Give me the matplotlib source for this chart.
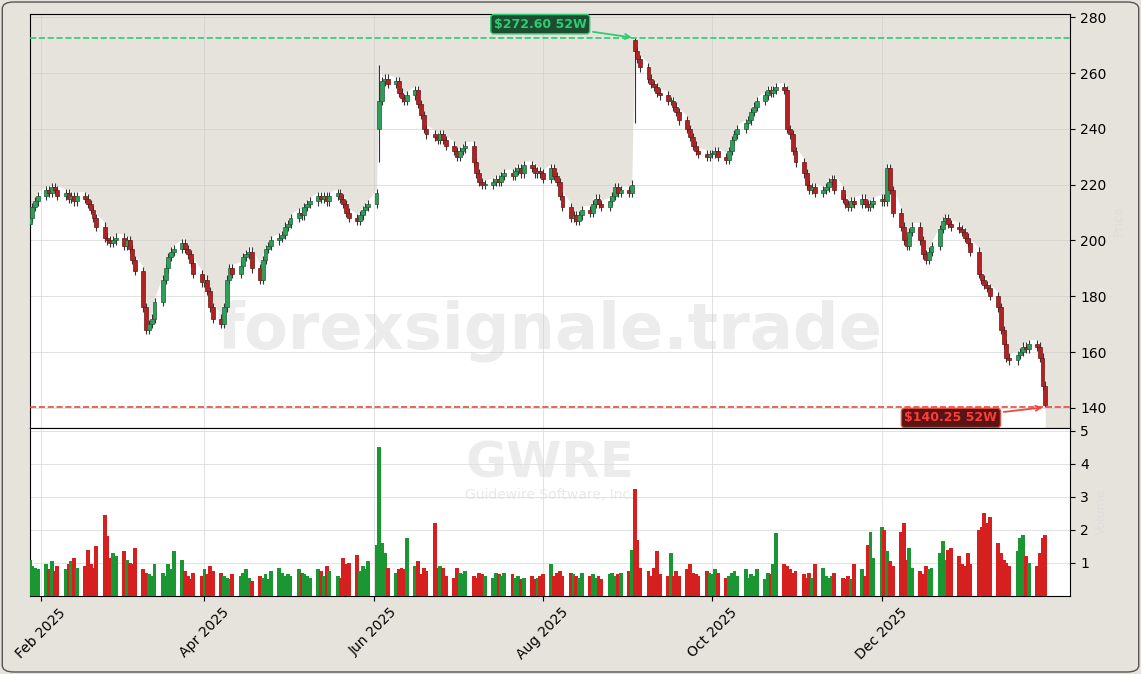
import matplotlib
matplotlib.use("Agg")
import matplotlib.pyplot as plt
import matplotlib.dates as mdates
from matplotlib.patches import FancyBboxPatch
import numpy as np
import pandas as pd

close_jan25 = [208, 212, 214, 216]
close_feb = [218, 217, 219, 218, 216, 217, 215, 216, 214, 216, 215, 213, 211, 208, 205, 201, 200, 199, 200, 201]
close_mar = [198, 200, 197, 193, 189, 176, 168, 170, 172, 178, 186, 190, 194, 196, 197, 199, 197, 195, 192, 188, 185]
close_apr = [186, 182, 176, 172, 170, 176, 186, 190, 188, 191, 194, 195, 196, 190, 186, 193, 197, 198, 200, 201, 202, 205]
close_may = [206, 208, 210, 209, 212, 213, 214, 216, 215, 216, 214, 216, 217, 215, 213, 210, 208, 207, 209, 211, 212, 213]
close_jun = [217, 250, 257, 258, 256, 257, 253, 251, 250, 252, 254, 249, 245, 240, 238, 237, 236, 238, 236, 234, 232]
close_jul = [230, 232, 233, 234, 228, 224, 221, 220, 220, 221, 222, 221, 223, 224, 223, 225, 226, 224, 227, 226, 224, 225, 224]
close_aug = [222, 226, 223, 221, 216, 212, 208, 209, 207, 209, 211, 210, 213, 215, 213, 212, 214, 216, 219, 217, 218]
close_sep = [217, 220, 268, 265, 262, 258, 256, 255, 253, 252, 250, 250, 248, 246, 243, 240, 237, 234, 232, 231, 230, 231]
close_oct = [231, 232, 230, 229, 232, 236, 238, 240, 242, 243, 246, 248, 250, 252, 254, 253, 254, 255, 254, 240, 238, 232, 228]
close_nov = [224, 220, 218, 219, 217, 218, 219, 221, 222, 218, 215, 213, 212, 214, 213, 215, 213, 212, 213, 214]
close_dec = [215, 214, 226, 218, 210, 205, 200, 198, 203, 205, 200, 195, 193, 196, 198, 204, 207, 208, 206, 205, 204, 203, 201]
close_jan26 = [199, 196, 188, 186, 184, 183, 180, 176, 168, 163, 158, 157, 159, 160, 162, 161, 163, 162, 158, 148, 141]

vol_jan25 = [1.1, 0.9, 0.85, 0.8]
vol_feb = [0.95, 0.8, 1.05, 0.75, 0.9, 0.8, 0.95, 1.05, 1.15, 0.85, 0.9, 1.4, 0.95, 0.85, 1.5, 2.45, 1.8, 1.15, 1.3, 1.2]
vol_mar = [1.35, 1.1, 1.0, 0.95, 1.45, 0.8, 0.7, 0.65, 0.6, 0.95, 0.7, 0.6, 0.95, 0.8, 1.35, 1.1, 0.75, 0.6, 0.5, 0.7, 0.6]
vol_apr = [0.8, 0.65, 0.9, 0.75, 0.7, 0.6, 0.55, 0.5, 0.65, 0.6, 0.7, 0.8, 0.55, 0.45, 0.6, 0.55, 0.65, 0.5, 0.75, 0.85, 0.7, 0.6]
vol_may = [0.65, 0.6, 0.8, 0.7, 0.65, 0.6, 0.55, 0.8, 0.75, 0.6, 0.9, 0.75, 0.6, 0.55, 1.15, 0.95, 1.0, 1.25, 0.75, 0.9, 0.8, 1.05]
vol_jun = [1.55, 4.5, 1.6, 1.3, 0.85, 0.7, 0.8, 0.85, 0.8, 1.75, 0.9, 1.05, 0.65, 0.85, 0.75, 2.2, 0.85, 0.9, 0.85, 0.6, 0.55]
vol_jul = [0.85, 0.7, 0.65, 0.75, 0.6, 0.55, 0.7, 0.65, 0.6, 0.55, 0.7, 0.65, 0.6, 0.7, 0.65, 0.55, 0.6, 0.5, 0.55, 0.6, 0.5, 0.55, 0.6]
vol_aug = [0.65, 0.95, 0.6, 0.7, 0.75, 0.6, 0.7, 0.65, 0.6, 0.55, 0.7, 0.6, 0.65, 0.55, 0.6, 0.5, 0.65, 0.7, 0.6, 0.65, 0.7]
vol_sep = [0.75, 1.4, 3.25, 1.7, 0.85, 0.75, 0.6, 0.85, 1.35, 0.65, 0.6, 1.3, 0.6, 0.75, 0.6, 0.8, 0.95, 0.7, 0.65, 0.6, 0.75, 0.7]
vol_oct = [0.65, 0.8, 0.7, 0.55, 0.6, 0.7, 0.75, 0.6, 0.8, 0.55, 0.65, 0.6, 0.8, 0.5, 0.7, 0.65, 0.95, 1.9, 0.95, 0.9, 0.8, 0.7, 0.75]
vol_nov = [0.65, 0.55, 0.7, 0.55, 0.95, 0.85, 0.6, 0.55, 0.6, 0.7, 0.55, 0.5, 0.6, 0.5, 0.95, 0.8, 0.6, 1.55, 1.95, 1.15]
vol_dec = [2.1, 2.0, 1.35, 1.05, 0.9, 1.95, 2.2, 1.1, 1.45, 0.85, 0.75, 0.65, 0.9, 0.8, 0.85, 1.3, 1.65, 1.1, 1.4, 1.45, 1.2, 0.95, 0.9]
vol_jan26 = [1.3, 0.95, 2.0, 2.1, 2.5, 2.2, 2.4, 1.6, 1.3, 1.1, 1.0, 0.9, 1.35, 1.75, 1.85, 1.2, 1.0, 0.9, 1.3, 1.75, 1.85]

high_52w = 272.60
low_52w = 140.25
ticker = "GWRE"
company = "Guidewire Software, Inc."

months = [close_jan25, close_feb, close_mar, close_apr, close_may, close_jun, close_jul,
          close_aug, close_sep, close_oct, close_nov, close_dec, close_jan26]
close = np.array(sum(months, []), float)
vol = np.array(vol_jan25 + vol_feb + vol_mar + vol_apr + vol_may + vol_jun + vol_jul
               + vol_aug + vol_sep + vol_oct + vol_nov + vol_dec + vol_jan26, float)
n = len(close)
dates = pd.bdate_range("2025-01-28", periods=n)
opn = np.concatenate([[206.0], close[:-1]])
jun_gap = sum(len(m) for m in months[:5]) + 1
sep_gap = sum(len(m) for m in months[:8]) + 2
opn[jun_gap] = 240
opn[sep_gap] = 272
high = np.maximum(opn, close) + 1.5
low = np.minimum(opn, close) - 1.5
high[jun_gap] = 263
high[sep_gap] = high_52w
low[-1] = low_52w
low[jun_gap] = 228
low[sep_gap] = 242

BG = "#e6e3dc"
fig = plt.figure(figsize=(11.41, 6.74), dpi=100, facecolor=BG)
axp = fig.add_axes([0.026, 0.365, 0.912, 0.614])
axv = fig.add_axes([0.026, 0.116, 0.912, 0.249], sharex=axp)

x = mdates.date2num(dates)
axp.set_facecolor(BG)
axp.fill_between(x, 120, high, color="white", zorder=0, linewidth=0)
up = close >= opn
w = 1.4
for i in range(n):
    c = "#2e9e5b" if up[i] else "#b22222"
    e = "#1f5f36" if up[i] else "#6b1414"
    axp.vlines(x[i], low[i], high[i], color="#333333", linewidth=0.8, zorder=2)
    b0 = min(opn[i], close[i]); h = max(abs(close[i]-opn[i]), 0.4)
    axp.bar(x[i], h, bottom=b0, width=w, color=c, edgecolor=e, linewidth=0.5, zorder=3)

axp.axhline(high_52w, color="#2ecc71", ls="--", lw=1.2, zorder=4)
axp.axhline(low_52w, color="#e74c3c", ls="--", lw=1.2, zorder=4)
ih = int(np.argmax(high)); il = int(np.argmin(low))
axp.annotate(f"${high_52w:.2f} 52W", xy=(x[ih], high_52w), xytext=(mdates.date2num(pd.Timestamp("2025-07-31")), 277.5),
             ha="center", va="center", fontsize=9, fontweight="bold", color="#2ecc71",
             bbox=dict(boxstyle="round,pad=0.25", fc="#1d4d30", ec="#2ecc71", lw=1),
             arrowprops=dict(arrowstyle="->", color="#2ecc71", lw=1.3), zorder=6)
axp.annotate(f"${low_52w:.2f} 52W", xy=(x[il], low_52w), xytext=(mdates.date2num(pd.Timestamp("2025-12-26")), 136.4),
             ha="center", va="center", fontsize=9, fontweight="bold", color="#ff3b3b",
             bbox=dict(boxstyle="round,pad=0.25", fc="#5a1414", ec="#e74c3c", lw=1),
             arrowprops=dict(arrowstyle="->", color="#e74c3c", lw=1.3), zorder=6)

axp.text(0.5, 0.235, "forexsignale.trade", transform=axp.transAxes, ha="center", va="center",
         fontsize=46, fontweight="bold", color="#d0d0d0", alpha=0.4, zorder=1)
axp.set_ylim(132.8, 281.1)
axp.set_yticks(range(140, 281, 20))
axp.yaxis.tick_right()
axp.grid(True, color="#cccccc", lw=0.6, alpha=0.7)
axp.set_axisbelow(True)
axp.tick_params(labelbottom=False, bottom=False, labelsize=10)
axp.set_ylabel("Price", color="#dddddd", fontsize=9)
axp.yaxis.set_label_position("right")

axv.set_facecolor("white")
vcol = np.where(up, "#1a9632", "#d62020")
axv.bar(x, vol, width=1.4, color=vcol, zorder=3)
axv.set_ylim(0, 5.09)
axv.set_yticks([1, 2, 3, 4, 5])
axv.yaxis.tick_right()
axv.grid(True, color="#dddddd", lw=0.6)
axv.set_axisbelow(True)
axv.text(0.5, 0.79, ticker, transform=axv.transAxes, ha="center", va="center", fontsize=36,
         fontweight="bold", color="#e0e0e0", alpha=0.6, zorder=1)
axv.text(0.5, 0.6, company, transform=axv.transAxes, ha="center", va="center", fontsize=10,
         color="#e0e0e0", alpha=0.7, zorder=1)
axv.set_ylabel("Volume", color="#dddddd", fontsize=9)
axv.yaxis.set_label_position("right")
ticks = pd.to_datetime(["2025-02-01", "2025-04-01", "2025-06-01", "2025-08-01", "2025-10-01", "2025-12-01"])
axv.set_xticks(mdates.date2num(ticks))
axv.xaxis.set_major_formatter(mdates.DateFormatter("%b %Y"))
plt.setp(axv.get_xticklabels(), rotation=45, ha="center")
axv.tick_params(labelsize=10)
axv.set_xlim(mdates.date2num(pd.Timestamp("2025-01-28")), mdates.date2num(pd.Timestamp("2026-02-07")))

fig.patches.append(FancyBboxPatch((0.002, 0.003), 0.996, 0.994, boxstyle="round,pad=0,rounding_size=0.01",
                                  transform=fig.transFigure, fc="none", ec="#555555", lw=1))
fig.savefig("out.png", dpi=100, facecolor=BG)
